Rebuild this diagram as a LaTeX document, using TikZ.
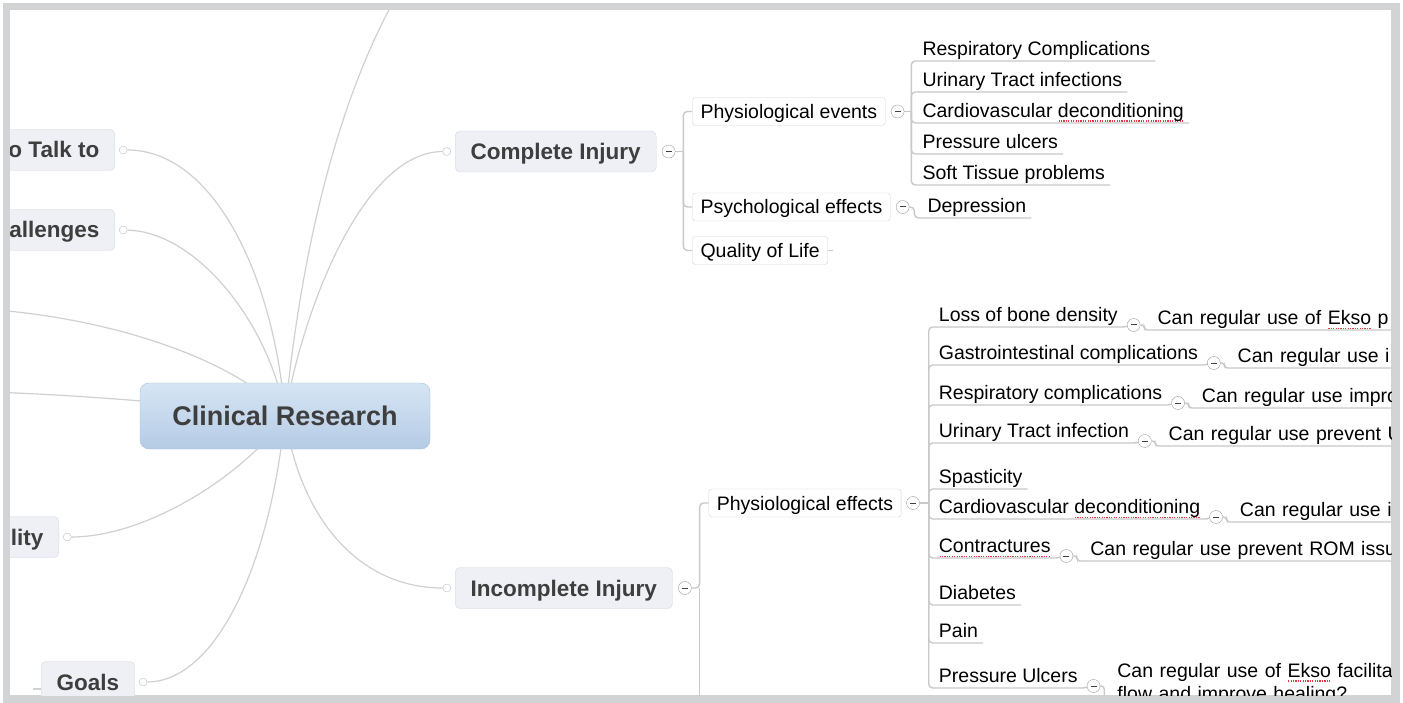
\documentclass[tikz,border=0pt]{standalone}
\usepackage{fontspec}
\setmainfont{Liberation Sans}
\usetikzlibrary{positioning, calc, backgrounds}

\definecolor{framegray}{HTML}{D2D3D5}
\definecolor{linegray}{HTML}{D0D0D0}
\definecolor{branchgray}{HTML}{C9C9C9}
\definecolor{roottop}{HTML}{D6E5F4}
\definecolor{rootbottom}{HTML}{B5CBE5}
\definecolor{rootdraw}{HTML}{AAC1DC}
\definecolor{topicfill}{HTML}{EEF0F6}
\definecolor{topicdraw}{HTML}{D6D8E0}
\definecolor{titletext}{HTML}{3E3E3E}
\definecolor{spellred}{HTML}{E23A44}

% red dotted spell-check mark under a word
\newcommand{\misspelt}[1]{\setbox0=\hbox{#1}%
  \rlap{\color{spellred}\raisebox{-4.2pt}{\hbox to \wd0{\xleaders\hbox to 2.4pt{\hss\rule{1.2pt}{1.5pt}\hss}\hfill}}}#1}

\begin{document}
\begin{tikzpicture}[x=1pt, y=-1pt,
    central/.style={rectangle, rounded corners=9pt, draw=rootdraw, top color=roottop, bottom color=rootbottom,
                    minimum width=290pt, minimum height=66pt, text=titletext, text height=19.5pt, text depth=0pt,
                    font=\fontsize{27}{32}\selectfont\bfseries},
    topic/.style={rectangle, rounded corners=5pt, draw=topicdraw, fill=topicfill, minimum height=41pt,
                  inner xsep=15.5pt, text=titletext, text height=16pt, text depth=0pt,
                  font=\fontsize{22.5}{27}\selectfont\bfseries},
    subtopic/.style={rectangle, rounded corners=3pt, draw=black!17, fill=white, minimum height=28pt,
                     inner xsep=8pt, anchor=west, text height=14pt, text depth=0pt,
                     font=\fontsize{19.5}{23}\selectfont},
    leaf/.style={anchor=south west, inner xsep=5pt, inner ysep=5pt, text depth=0pt,
                 font=\fontsize{19.5}{23}\selectfont},
    question/.style={leaf, text width=330pt, align=left},
    joint/.style={circle, draw=black!25, fill=white, minimum size=8pt, inner sep=0pt},
    foldbtn/.style={circle, draw=black!38, fill=white, minimum size=13pt, inner sep=0pt,
                    path picture={\draw[black!75, line width=1pt]
                      ([xshift=-3pt]path picture bounding box.center) --
                      ([xshift=3pt]path picture bounding box.center);}},
    link/.style={draw=linegray, line width=1.2pt},
    elbow/.style={draw=branchgray, line width=1.4pt, rounded corners=4pt},
]
\useasboundingbox (0,0) rectangle (1403,703);

\begin{scope}
  \clip (10,10) rectangle (1391,695);

  \node[central] (cr) at (285,416) {Clinical Research};

  % main topics, the left ones cut off by the window
  \node[topic, anchor=east] (talk) at (115,150) {o Talk to};
  \node[topic, anchor=east] (chal) at (115,230) {allenges};
  \node[topic, anchor=east] (lity) at (59,537) {lity};
  \node[topic, anchor=west] (goals) at (41,682) {Goals};
  \node[topic, anchor=west] (ci) at (455,151.5) {Complete Injury};
  \node[topic, anchor=west] (ii) at (455,588) {Incomplete Injury};

  \node[joint] (talk-j) [right=4pt of talk] {};
  \node[joint] (chal-j) [right=4pt of chal] {};
  \node[joint] (lity-j) [right=4pt of lity] {};
  \node[joint] (goals-j) [right=4pt of goals] {};
  \node[joint] (ci-j) [left=4pt of ci] {};
  \node[joint] (ii-j) [left=4pt of ii] {};

  \node[foldbtn] (ci-f) [right=5.5pt of ci] {};
  \node[foldbtn] (ii-f) [right=5.5pt of ii] {};
  \coordinate (ci-t) at ($(ci-f.east)+(8,0)$);
  \coordinate (ii-t) at ($(ii-f.east)+(8,0)$);

  % complete injury
  \node[subtopic, xshift=9pt] (pev) at (ci-t |- 0,111.5) {Physiological events};
  \node[subtopic, xshift=9pt] (psy) at (ci-t |- 0,207) {Psychological effects};
  \node[subtopic, xshift=9pt] (qol) at (ci-t |- 0,250.5) {Quality of Life};
  \node[foldbtn] (pev-f) [right=5.5pt of pev] {};
  \node[foldbtn] (psy-f) [right=5.5pt of psy] {};
  \coordinate (pev-t) at ($(pev-f.east)+(7,0)$);
  \coordinate (psy-t) at ($(psy-f.east)+(5,0)$);
  \coordinate (qol-stub) at ($(qol.east)+(5,0)$);

  \foreach \n/\y/\txt in {resp/61/Respiratory Complications, uti/92/Urinary Tract infections,
      cvd/123/Cardiovascular \misspelt{deconditioning}, pru/154/Pressure ulcers,
      sof/185/Soft Tissue problems}
    \node[leaf, xshift=6pt] (\n) at (pev-t |- 0,\y) {\txt};
  \node[leaf, xshift=8pt] (dep) at (psy-t |- 0,218) {Depression};

  % incomplete injury
  \node[subtopic, xshift=9pt] (pef) at (ii-t |- 0,503) {Physiological effects};
  \node[foldbtn] (pef-f) [right=5pt of pef] {};
  \coordinate (pef-t) at ($(pef-f.east)+(9,0)$);
  \coordinate (ii-more) at (ii-t |- 0,720);

  \foreach \n/\y/\txt in {bone/327/Loss of bone density, gast/365/Gastrointestinal complications,
      resp2/405/Respiratory complications, uti2/443/Urinary Tract infection, spas/489/Spasticity,
      cvd2/519/Cardiovascular \misspelt{deconditioning}, cont/558/\misspelt{Contractures},
      diab/605/Diabetes, pain/643/Pain, pulc/688/Pressure Ulcers}
    \node[leaf, xshift=5pt] (\n) at (pef-t |- 0,\y) {\txt};

  % questions hanging off the effects
  \foreach \n/\txt in {bone/Can regular use of \misspelt{Ekso} p, gast/Can regular use i,
      resp2/Can regular use impro, uti2/Can regular use prevent U, cvd2/Can regular use i,
      cont/Can regular use prevent ROM issu}{
    \node[foldbtn] (\n-f) [right=4pt of \n.south east, yshift=2pt] {};
    \node[question] (\n-q) at ($(\n-f.east)+(12,5)$) {\txt};
  }
  \node[foldbtn] (pulc-f) [right=4pt of pulc.south east, yshift=2pt] {};
  \node[question, anchor=north west, text depth=30pt] (pulc-q) at ($(pulc-f.east)+(12,-28)$)
    {Can regular use of \misspelt{Ekso} facilitat\\flow and improve healing?};
\end{scope}

\begin{scope}[on background layer]
  \fill[framegray] (3,3) rectangle (1400,703);
  \fill[white] (10,10) rectangle (1391,695);
  \clip (10,10) rectangle (1391,695);
  \coordinate (west-a) at (-40,308);
  \coordinate (west-b) at (-60,391);
  \coordinate (north-a) at (400,-10);
  \coordinate (goals-stub) at (33,689);

  % curved links out of the central topic
  \draw[link] (cr.center) .. controls (275,280) and (215,150) .. (talk-j);
  \draw[link] (cr.center) .. controls (272,330) and (200,232) .. (chal-j);
  \draw[link] (cr.center) .. controls (240,360) and (100,312) .. (west-a);
  \draw[link] (cr.center) .. controls (200,405) and (60,392) .. (west-b);
  \draw[link] (cr.center) .. controls (250,470) and (150,537) .. (lity-j);
  \draw[link] (cr.center) .. controls (268,580) and (210,682) .. (goals-j);
  \draw[link] (cr.center) .. controls (298,280) and (330,110) .. (north-a);
  \draw[link] (cr.center) .. controls (300,320) and (360,152) .. (ci-j);
  \draw[link] (cr.center) .. controls (300,520) and (360,588) .. (ii-j);
  \draw[link] (goals.west |- goals-stub) -- (goals-stub);

  % elbow lines of the two injury branches
  \draw[elbow] (ci-f) -- (ci-t);
  \foreach \n in {pev, psy, qol} \draw[elbow] (ci-t) |- (\n);
  \draw[elbow] (qol) -- (qol-stub);
  \draw[elbow] (pev-f) -- (pev-t);
  \foreach \n in {resp, uti, cvd, pru, sof} \draw[elbow] (pev-t) |- (\n.south east);
  \draw[elbow] (psy-f) -- (psy-t) |- (dep.south east);

  \draw[elbow] (ii-f) -- (ii-t) |- (pef);
  \draw[elbow] (ii-t) -- (ii-more);
  \draw[elbow] (pef-f) -- (pef-t);
  \foreach \n in {bone, gast, resp2, uti2, spas, cvd2, cont, diab, pain, pulc}
    \draw[elbow] (pef-t) |- (\n.south east);
  \foreach \n in {bone, gast, resp2, uti2, cvd2, cont, pulc}{
    \draw[elbow] (\n.south east) -- (\n-f);
    \draw[elbow, rounded corners=3pt] (\n-f.east) -- ++(4,0) |- (\n-q.south east);
  }
\end{scope}
\end{tikzpicture}
\end{document}
